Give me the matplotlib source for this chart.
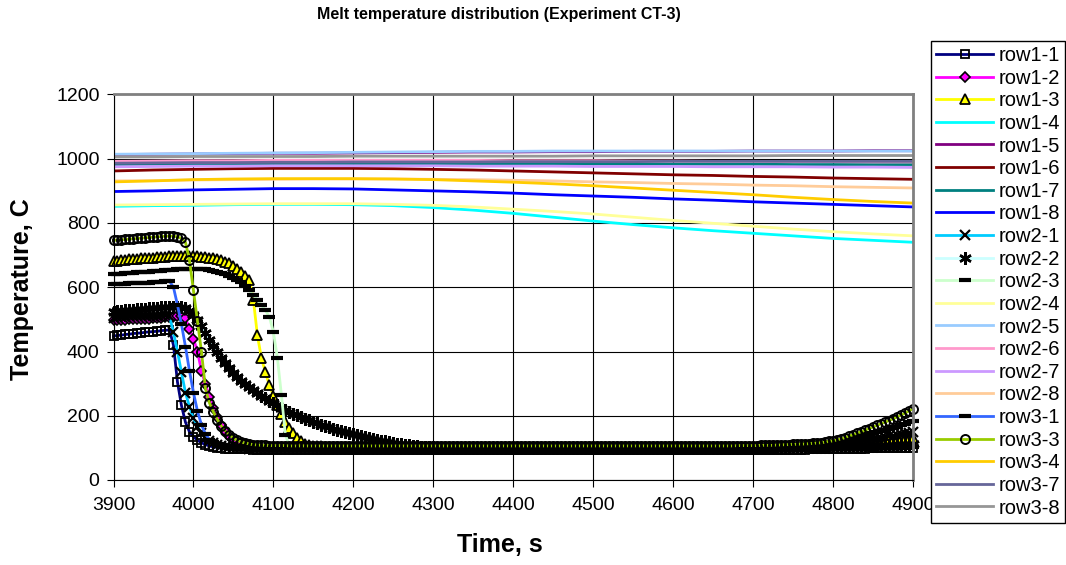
import numpy as np
import matplotlib
matplotlib.use("Agg")
import matplotlib.pyplot as plt

plt.rcParams['font.family'] = ['Liberation Sans', 'DejaVu Sans']

# --- time grids (s) ---
t_fast = np.arange(3900, 4901, 5)
t_slow = np.arange(3900, 4901, 50)

# --- thermocouples that quench (values on t_fast, every 5 s) ---
row1_1 = [448, 450, 451, 453, 454, 456, 457, 458, 460, 461, 462,
          463, 465, 466, 467, 420, 305, 232, 180, 150, 135,
          124, 116, 110, 106, 103, 101, 99, 98, 97, 96,
          96, 95, 95, 95, 94, 94, 94, 94, 93, 93,
          93, 93, 93, 93, 93, 93, 93, 92, 92, 92,
          92, 92, 92, 92, 92, 92, 92, 92, 92, 92, 92, 92, 92, 92, 92, 92, 92, 92, 92, 92,
          92, 92, 92, 92, 92, 92, 92, 92, 92, 92, 92, 92, 92, 92, 92, 92, 92, 92, 92, 92,
          92, 92, 92, 92, 92, 92, 92, 92, 92, 92, 92, 92, 92, 92, 92, 92, 92, 92, 92, 92,
          92, 92, 92, 92, 92, 92, 92, 92, 92, 92, 92, 92, 92, 92, 92, 92, 92, 92, 92, 92,
          92, 92, 92, 92, 92, 92, 92, 92, 92, 92, 92, 92, 92, 92, 92, 92, 92, 92, 92, 92,
          92, 92, 92, 92, 92, 92, 92,
          92, 92, 92, 92, 93, 93, 93, 93, 93, 93, 93, 94, 94, 94, 94, 94, 95, 95, 95, 96, 96, 96,
          96, 97, 97, 97, 97, 98, 98, 98, 98, 99, 99, 99, 99, 100, 100, 100, 100, 100, 101, 101, 101]
row1_2 = [497, 498, 499, 499, 500, 500, 501, 501, 502, 502, 503,
          504, 505, 506, 507, 508, 510, 512, 505, 470, 440,
          400, 340, 298, 258, 225, 196, 172, 152, 137, 126,
          118, 112, 108, 105, 103, 102, 101, 100, 100, 100,
          99, 99, 99, 99, 99, 99, 99, 99, 99, 99, 99, 99, 99, 99, 99, 99, 99, 99, 99, 99,
          99, 99, 99, 99, 99, 99, 99, 99, 99, 99, 99, 99, 99, 99, 99, 99, 99, 99, 99, 99,
          99, 99, 99, 99, 99, 99, 99, 99, 99, 99, 99, 99, 99, 99, 99, 99, 99, 99, 99, 99,
          99, 99, 99, 99, 99, 99, 99, 99, 99, 99, 99, 99, 99, 99, 99, 99, 99, 99, 99, 99,
          99, 99, 99, 99, 99, 99, 99, 99, 99, 99, 99, 99, 99, 99, 99, 99, 99, 99, 99, 99,
          99, 99, 99, 99, 99, 99, 99, 99, 99, 99, 99, 99, 99, 99, 99, 99, 99, 99, 99, 99,
          99, 99, 99, 99, 99, 99, 99, 99, 99, 99, 99,
          100, 100, 100, 100, 101, 101, 101, 101, 102, 102, 102, 102, 103, 103, 103,
          103, 104, 104, 104, 104, 105, 105, 106, 106, 107, 107, 108, 108, 109]
row1_3 = [682, 683, 685, 686, 687, 688, 689, 690, 691, 691, 692,
          693, 694, 695, 696, 696, 697, 697, 697, 697, 697,
          696, 695, 694, 692, 690, 687, 684, 680, 674, 667,
          658, 648, 636, 622, 560, 450, 380, 335, 295, 262,
          232, 205, 180, 162, 146, 132, 120, 112, 108, 106,
          105, 105,
          104, 104, 104, 104, 104, 104, 104, 104, 104, 104, 104, 104, 104, 104, 104, 104, 104, 104, 104, 104,
          104, 104, 104, 104, 104, 104, 104, 104, 104, 104, 104, 104, 104, 104, 104, 104, 104, 104, 104, 104,
          104, 104, 104, 104, 104, 104, 104, 104, 104, 104, 104, 104, 104, 104, 104, 104, 104, 104, 104, 104,
          104, 104, 104, 104, 104, 104, 104, 104, 104, 104, 104, 104, 104, 104, 104, 104, 104, 104, 104, 104,
          104, 104, 104, 104, 104, 104, 104, 104, 104, 104, 104, 104, 104, 104, 104, 104, 104, 104, 104, 104,
          104, 104, 104, 104, 104, 104, 104,
          104, 104, 104, 104, 105, 105, 105, 105, 106, 106, 106, 106, 107, 107, 108, 108, 109, 109, 110, 110,
          111, 112, 113, 113, 114, 115, 116, 117, 118, 119, 120, 121, 122, 123, 124, 125, 126, 127, 128, 129, 130]
row2_1 = [505, 506, 507, 508, 509, 509, 510, 510, 511, 511, 512,
          512, 513, 513, 510, 460, 400, 335, 272, 228, 192,
          166, 146, 132, 122, 115, 110, 106, 104, 102, 101,
          100, 99, 99, 98, 98, 98, 97, 97, 97, 97,
          97, 97, 96, 96, 96, 96, 96, 96, 96, 96,
          96, 96, 96, 96, 96, 96, 96, 96, 96, 96, 96, 96, 96, 96, 96, 96, 96, 96, 96, 96,
          96, 96, 96, 96, 96, 96, 96, 96, 96, 96, 96, 96, 96, 96, 96, 96, 96, 96, 96, 96,
          96, 96, 96, 96, 96, 96, 96, 96, 96, 96, 96, 96, 96, 96, 96, 96, 96, 96, 96, 96,
          96, 96, 96, 96, 96, 96, 96, 96, 96, 96, 96, 96, 96, 96, 96, 96, 96, 96, 96, 96,
          96, 96, 96, 96, 96, 96, 96, 96, 96, 96, 96, 96, 96, 96, 96, 96, 96, 96, 96, 96,
          96, 96, 96, 96, 96, 96, 96,
          96, 96, 97, 97, 97, 97, 98, 98, 99, 99, 100, 100, 101, 101, 102, 103, 104, 105, 106, 107, 108, 109,
          110, 111, 113, 114, 116, 117, 119, 121, 123, 125, 127, 129, 131, 133, 136, 138, 140, 142, 145, 147, 150]
row2_2 = [524, 526, 527, 528, 529, 530, 531, 532, 533, 534, 535,
          536, 537, 538, 539, 540, 540, 539, 535, 527, 515,
          498, 478, 457, 437, 417, 398, 380, 363, 348, 334,
          321, 309, 298, 288, 279, 270, 262, 254, 246, 239,
          232, 225, 219, 213, 207, 201, 196, 191, 186, 181,
          177, 172, 168, 164, 160, 157, 153, 150, 146, 143, 140, 137, 134, 131, 128,
          125, 122, 120, 117, 115, 113, 111, 109, 108, 106, 105, 104, 103, 102, 102,
          101, 101, 101, 101,
          100, 100, 100, 100, 100, 100, 100, 100, 100, 100, 100, 100, 100, 100, 100, 100, 100, 100, 100, 100,
          100, 100, 100, 100, 100, 100, 100, 100, 100, 100, 100, 100, 100, 100, 100, 100, 100, 100, 100, 100,
          100, 100, 100, 100, 100, 100, 100, 100, 100, 100, 100, 100, 100, 100, 100, 100, 100, 100, 100, 100,
          100, 100, 100, 100, 100, 100, 100, 100, 100, 100, 100, 100, 100, 100, 100, 100, 100, 100, 100, 100,
          100,
          101, 101, 101, 101, 101, 102, 102, 102, 102, 103, 103, 103, 104, 104, 104, 105, 105, 105,
          106, 106, 106, 107, 107, 107, 108, 108, 109, 109, 110, 110, 111, 111, 112, 112, 112]
row2_3 = [640, 641, 642, 643, 644, 645, 646, 647, 648, 649, 650,
          651, 652, 653, 654, 655, 656, 657, 657, 658, 658,
          658, 657, 656, 654, 652, 649, 645, 640, 635, 629,
          623, 616, 603, 590, 575, 560, 545, 528, 508, 460,
          380, 265, 140, 108, 100, 97, 96, 95, 95, 95,
          95, 95,
          94, 94, 94, 94, 94, 94, 94, 94, 94, 94, 94, 94, 94, 94, 94, 94, 94, 94, 94, 94,
          94, 94, 94, 94, 94, 94, 94, 94, 94, 94, 94, 94, 94, 94, 94, 94, 94, 94, 94, 94,
          94, 94, 94, 94, 94, 94, 94, 94, 94, 94, 94, 94, 94, 94, 94, 94, 94, 94, 94, 94,
          94, 94, 94, 94, 94, 94, 94, 94, 94, 94, 94, 94, 94, 94, 94, 94, 94, 94, 94, 94,
          94, 94, 94, 94, 94, 94, 94, 94, 94, 94, 94, 94, 94, 94, 94, 94, 94, 94, 94, 94,
          94, 94, 94, 94, 94, 94, 94, 94, 94, 94, 94, 94, 94, 94, 94, 94, 94, 94, 94,
          95, 95, 95, 95, 95, 95, 96, 96, 96, 96, 97, 97, 97, 97, 98,
          98, 98, 98, 99, 99, 99, 99, 100, 100, 100, 100, 101, 101, 102]
row3_1 = [610, 610, 611, 611, 612, 612, 613, 613, 614, 614, 615,
          616, 617, 618, 619, 600, 545, 485, 415, 340, 272,
          215, 172, 143, 126, 117, 112, 109, 107, 106, 105,
          104, 104, 103, 103, 103, 103, 103, 103, 102, 102,
          102, 102, 102, 102, 102, 102, 102, 102, 102, 102,
          102, 102, 102, 102, 102, 102, 102, 102, 102, 102, 102, 102, 102, 102, 102, 102, 102, 102, 102, 102,
          102, 102, 102, 102, 102, 102, 102, 102, 102, 102, 102, 102, 102, 102, 102, 102, 102, 102, 102, 102,
          102, 102, 102, 102, 102, 102, 102, 102, 102, 102, 102, 102, 102, 102, 102, 102, 102, 102, 102, 102,
          102, 102, 102, 102, 102, 102, 102, 102, 102, 102, 102, 102, 102, 102, 102, 102, 102, 102, 102, 102,
          102, 102, 102, 102, 102, 102, 102, 102, 102, 102, 102, 102, 102, 102, 102, 102, 102, 102, 102, 102,
          102,
          103, 103, 103, 103, 103, 103, 104, 104, 104, 104, 105, 105, 105, 105, 106, 106, 107, 107, 108, 108,
          109, 110, 111, 112, 113, 114, 116, 117, 119, 121, 123, 125, 128, 130, 133, 136, 139, 142, 145,
          148, 151, 154, 158, 162, 166, 170, 175, 180, 185]
row3_3 = [746, 747, 748, 749, 750, 751, 752, 753, 754, 755, 756,
          757, 758, 759, 759, 759, 757, 752, 740, 685, 590,
          495, 400, 285, 240, 212, 188, 168, 152, 140, 130,
          123, 118, 115, 112, 110, 109, 108, 108, 107, 107,
          107, 107, 107, 106, 106, 106, 106, 106, 106, 106,
          106, 106, 106, 106, 106, 106, 106, 106, 106, 106, 106, 106, 106, 106, 106, 106, 106, 106, 106, 106,
          106, 106, 106, 106, 106, 106, 106, 106, 106, 106, 106, 106, 106, 106, 106, 106, 106, 106, 106, 106,
          106, 106, 106, 106, 106, 106, 106, 106, 106, 106, 106, 106, 106, 106, 106, 106, 106, 106, 106, 106,
          106, 106, 106, 106, 106, 106, 106, 106, 106, 106, 106, 106, 106, 106, 106, 106, 106, 106, 106, 106,
          106, 106, 106, 106, 106, 106, 106, 106, 106, 106, 106, 106, 106, 106, 106, 106, 106, 106, 106, 106,
          106, 106, 106, 106, 106,
          107, 107, 107, 107, 107, 107, 108, 108, 108, 108, 109, 109, 110, 110, 111, 111, 112, 112, 113, 114,
          115, 116, 118, 120, 122, 125, 128, 132, 137, 141, 146, 150, 155, 160, 165, 170, 175, 180, 185, 190,
          196, 202, 208, 215, 222]

# --- thermocouples that stay in the melt (values on t_slow, every 50 s) ---
row1_4 = [852, 854, 855, 857, 858, 858, 857, 854, 848, 840, 830,
          818, 806, 795, 785, 776, 768, 760, 752, 746, 740]
row1_5 = [1013, 1014, 1015, 1016, 1017, 1017, 1018, 1019, 1020, 1021, 1021,
          1022, 1022, 1023, 1023, 1023, 1024, 1024, 1024, 1025, 1025]
row1_6 = [962, 965, 967, 969, 970, 970, 970, 969, 967, 965, 962,
          959, 956, 953, 950, 948, 945, 943, 940, 938, 936]
row1_7 = [982, 983, 984, 984, 985, 985, 985, 985, 985, 985, 984,
          984, 984, 983, 983, 983, 983, 982, 982, 982, 982]
row1_8 = [898, 900, 903, 905, 907, 907, 906, 903, 900, 897, 893,
          888, 884, 880, 875, 871, 866, 862, 858, 854, 850]
row2_4 = [856, 857, 858, 859, 860, 860, 860, 858, 855, 850, 843,
          836, 828, 818, 808, 799, 790, 781, 773, 766, 760]
row2_5 = [1014, 1015, 1016, 1017, 1018, 1019, 1020, 1021, 1022, 1023, 1023,
          1024, 1024, 1024, 1024, 1024, 1024, 1024, 1024, 1024, 1024]
row2_6 = [992, 993, 994, 994, 995, 995, 995, 995, 995, 995, 994,
          994, 994, 993, 993, 992, 992, 991, 991, 990, 990]
row2_7 = [975, 976, 977, 977, 978, 978, 978, 978, 978, 977, 977,
          977, 976, 976, 976, 975, 975, 975, 974, 974, 973]
row2_8 = [931, 932, 934, 935, 936, 937, 937, 937, 936, 935, 933,
          931, 928, 926, 923, 921, 918, 916, 913, 911, 909]
row3_4 = [928, 931, 935, 937, 938, 938, 938, 937, 935, 931, 927,
          922, 916, 909, 902, 895, 888, 880, 873, 867, 862]
row3_7 = [986, 987, 988, 988, 989, 989, 990, 990, 990, 990, 991,
          991, 991, 991, 992, 992, 992, 992, 992, 992, 992]
row3_8 = [1006, 1006, 1007, 1007, 1007, 1007, 1008, 1008, 1008, 1008, 1008,
          1008, 1009, 1009, 1009, 1009, 1009, 1010, 1010, 1010, 1010]

# name, time, values, colour, marker
series = [
    ("row1-1", t_fast, row1_1, "#000080", "s"),
    ("row1-2", t_fast, row1_2, "#FF00FF", "D"),
    ("row1-3", t_fast, row1_3, "#FFFF00", "^"),
    ("row1-4", t_slow, row1_4, "#00FFFF", None),
    ("row1-5", t_slow, row1_5, "#800080", None),
    ("row1-6", t_slow, row1_6, "#800000", None),
    ("row1-7", t_slow, row1_7, "#008080", None),
    ("row1-8", t_slow, row1_8, "#0000FF", None),
    ("row2-1", t_fast, row2_1, "#00CCFF", "x"),
    ("row2-2", t_fast, row2_2, "#CCFFFF", (6, 2, 0)),
    ("row2-3", t_fast, row2_3, "#CCFFCC", "_"),
    ("row2-4", t_slow, row2_4, "#FFFF99", None),
    ("row2-5", t_slow, row2_5, "#99CCFF", None),
    ("row2-6", t_slow, row2_6, "#FF99CC", None),
    ("row2-7", t_slow, row2_7, "#CC99FF", None),
    ("row2-8", t_slow, row2_8, "#FFCC99", None),
    ("row3-1", t_fast, row3_1, "#3366FF", "_"),
    ("row3-3", t_fast, row3_3, "#99CC00", "o"),
    ("row3-4", t_slow, row3_4, "#FFCC00", None),
    ("row3-7", t_slow, row3_7, "#666699", None),
    ("row3-8", t_slow, row3_8, "#969696", None),
]

marker_style = {
    "s": dict(ms=6.3, mfc="none", mew=1.3),
    "D": dict(ms=5.3, mew=1.2),
    "^": dict(ms=7, mew=1.3),
    "x": dict(ms=7, mew=1.6),
    (6, 2, 0): dict(ms=9, mew=1.8),
    "_": dict(ms=8, mew=3),
    "o": dict(ms=6.5, mfc="none", mew=1.4),
}

W, H = 1066, 565
fig = plt.figure(figsize=(W / 100, H / 100), dpi=100)
ax = fig.add_axes([113.5 / W, 1 - 480 / H, 799.5 / W, 385.5 / H])

for name, t, vals, color, mk in series:
    if mk is None:
        ax.plot(t, vals, color=color, lw=2, label=name)
    else:
        st = dict(marker_style[mk])
        st.setdefault("mfc", color)
        ax.plot(t, vals, color=color, lw=2, marker=mk, mec="black",
                label=name, clip_on=False, **st)

ax.set_xlim(3900, 4900)
ax.set_ylim(0, 1200)
ax.set_xticks(np.arange(3900, 4901, 100))
ax.set_yticks(np.arange(0, 1201, 200))
ax.grid(True, color="black", lw=0.8)
ax.set_axisbelow(True)
ax.tick_params(direction="out", length=5, width=0.8, labelsize=14)
ax.tick_params(axis="x", pad=7)
ax.tick_params(axis="y", pad=5)
for side in ["top", "right"]:
    ax.spines[side].set_color("#808080")
    ax.spines[side].set_linewidth(2)
for side in ["left", "bottom"]:
    ax.spines[side].set_color("black")
    ax.spines[side].set_linewidth(0.8)

fig.text(499 / W, 1 - 14 / H, "Melt temperature distribution (Experiment CT-3)",
         ha="center", va="center", fontsize=11.5, fontweight="bold")
fig.text(500 / W, 1 - 545 / H, "Time, s", ha="center", va="center",
         fontsize=18, fontweight="bold")
fig.text(22 / W, 1 - 289 / H, "Temperature, C", ha="center", va="center",
         rotation=90, fontsize=18, fontweight="bold")

leg = ax.legend(loc="upper left", bbox_to_anchor=(931 / W, 1 - 41 / H),
                bbox_transform=fig.transFigure, borderaxespad=0,
                fontsize=14.5, frameon=True, fancybox=False, shadow=False,
                edgecolor="black", framealpha=1, borderpad=0.25,
                labelspacing=0.18, handlelength=2.85, handletextpad=0.25)
leg.get_frame().set_linewidth(1)
leg.set_zorder(10)

fig.savefig("out.png", dpi=100)
